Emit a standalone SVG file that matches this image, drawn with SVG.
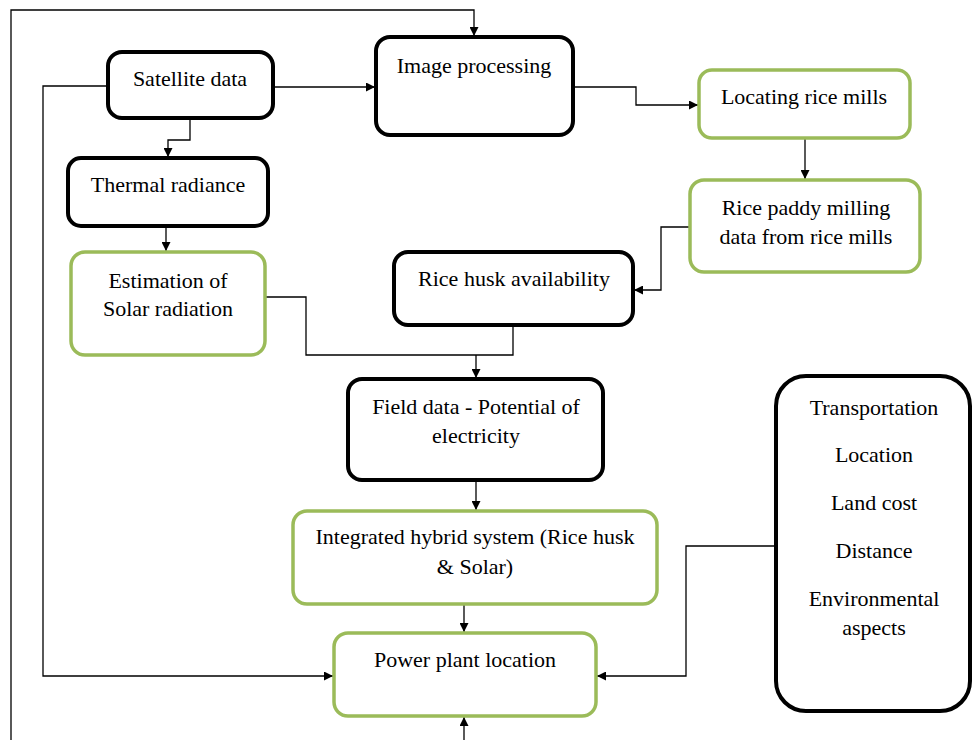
<svg xmlns="http://www.w3.org/2000/svg" width="972" height="740" viewBox="0 0 972 740">
<style>
.b{fill:#fff;stroke:#000;stroke-width:4}
.g{fill:#fff;stroke:#9bbb59;stroke-width:3.5}
.t{font-family:'Liberation Serif','Times New Roman','DejaVu Serif',serif;font-size:22px;fill:#000;text-anchor:middle}
.c{fill:none;stroke:#000;stroke-width:1.3}
</style>
<defs>
<marker id="a" viewBox="0 0 10 10" refX="10" refY="5" markerWidth="9" markerHeight="9" markerUnits="userSpaceOnUse" orient="auto">
<path d="M0,0L10,5L0,10z" fill="#000"/>
</marker>
</defs>
<rect width="972" height="740" fill="#fff"/>
<g id="connectors">
<path class="c" d="M11,740V10H474V36" marker-end="url(#a)"/>
<path class="c" d="M108,86H43V676H333" marker-end="url(#a)"/>
<path class="c" d="M273,87H375" marker-end="url(#a)"/>
<path class="c" d="M190,118V140H168V157" marker-end="url(#a)"/>
<path class="c" d="M166,226V251" marker-end="url(#a)"/>
<path class="c" d="M573,87H636V105H698" marker-end="url(#a)"/>
<path class="c" d="M805,138V179" marker-end="url(#a)"/>
<path class="c" d="M690,227H661V290H634" marker-end="url(#a)"/>
<path class="c" d="M265,297H306V355H513V325"/>
<path class="c" d="M476,355V378" marker-end="url(#a)"/>
<path class="c" d="M476,480V510" marker-end="url(#a)"/>
<path class="c" d="M464,604V632" marker-end="url(#a)"/>
<path class="c" d="M464,740V717" marker-end="url(#a)"/>
<path class="c" d="M776,546H686V676H597" marker-end="url(#a)"/>
</g>
<g id="satellite"><rect class="b" x="108" y="52" width="165" height="66" rx="14"/><text class="t" x="190" y="86">Satellite data</text></g>
<g id="image"><rect class="b" x="376" y="37" width="197" height="98" rx="14"/><text class="t" x="474" y="73">Image processing</text></g>
<g id="locating"><rect class="g" x="699" y="70" width="211" height="68" rx="13"/><text class="t" x="804" y="104">Locating rice mills</text></g>
<g id="paddy"><rect class="g" x="690" y="180" width="230" height="92" rx="14"/><text class="t" x="806" y="215">Rice paddy milling</text><text class="t" x="806" y="244">data from rice mills</text></g>
<g id="thermal"><rect class="b" x="68" y="158" width="200" height="68" rx="13"/><text class="t" x="168" y="192">Thermal radiance</text></g>
<g id="solar"><rect class="g" x="71" y="252" width="194" height="103" rx="14"/><text class="t" x="168" y="288">Estimation of</text><text class="t" x="168" y="316">Solar radiation</text></g>
<g id="husk"><rect class="b" x="394" y="252" width="239" height="73" rx="14"/><text class="t" x="514" y="286">Rice husk availability</text></g>
<g id="field"><rect class="b" x="348" y="379" width="255" height="101" rx="14"/><text class="t" x="476" y="414">Field data - Potential of</text><text class="t" x="476" y="443">electricity</text></g>
<g id="hybrid"><rect class="g" x="293" y="511" width="364" height="93" rx="14"/><text class="t" x="475" y="544">Integrated hybrid system (Rice husk</text><text class="t" x="475" y="574">&amp; Solar)</text></g>
<g id="power"><rect class="g" x="334" y="633" width="262" height="83" rx="14"/><text class="t" x="465" y="667">Power plant location</text></g>
<g id="factors"><rect class="b" x="776" y="376" width="194" height="335" rx="30"/>
<text class="t" x="874" y="415">Transportation</text>
<text class="t" x="874" y="462">Location</text>
<text class="t" x="874" y="510">Land cost</text>
<text class="t" x="874" y="558">Distance</text>
<text class="t" x="874" y="606">Environmental</text>
<text class="t" x="874" y="635">aspects</text>
</g>
</svg>
